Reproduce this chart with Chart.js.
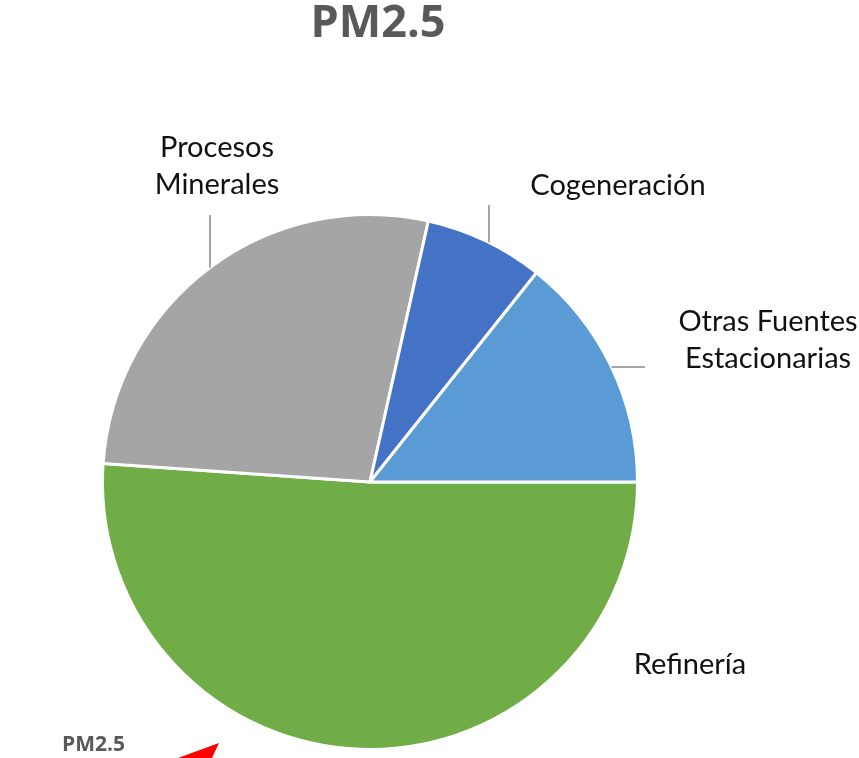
<!DOCTYPE html>
<html>
<head>
<meta charset="utf-8">
<script src="https://cdn.jsdelivr.net/npm/chart.js@4.4.0/dist/chart.umd.min.js"></script>
<style>
  html,body{margin:0;padding:0;background:#fff;}
  #wrap{width:859px;height:758px;position:relative;}
</style>
</head>
<body>
<div id="wrap"><canvas id="pm25"></canvas></div>
<script>
const titulo = "PM2.5";
const categorias = ["Refinería", "Procesos Minerales", "Cogeneración", "Otras Fuentes Estacionarias"];
const valores = [51.1, 27.4, 7.2, 14.3];
const colores = ["#70ad47", "#a5a5a5", "#4472c4", "#5b9bd5"];

// donde va cada etiqueta (centro del texto) y como sale su línea guía
const etiquetas = [
  {lineas:["Refinería"], x:690, y:665, guia:null},
  {lineas:["Procesos","Minerales"], x:217, y:166, guia:{tipo:"v", x:210, fin:215}},
  {lineas:["Cogeneración"], x:618, y:186, guia:{tipo:"v", x:489, fin:205}},
  {lineas:["Otras Fuentes","Estacionarias"], x:768, y:340, guia:{tipo:"h", y:367, fin:645}}
];

const pluginEtiquetas = {
  id:'etiquetas',
  afterDraw(chart){
    const ctx = chart.ctx;
    const arc = chart.getDatasetMeta(0).data[0];
    const cx = arc.x, cy = arc.y, r = arc.outerRadius;
    ctx.save();
    // título
    ctx.fillStyle = "#595959";
    ctx.font = "bold 45px 'Open Sans', sans-serif";
    ctx.textAlign = "center";
    ctx.textBaseline = "middle";
    ctx.fillText(titulo, 378, 24);

    // líneas guía
    ctx.strokeStyle = "#a6a6a6";
    ctx.lineWidth = 2;
    etiquetas.forEach(e=>{
      const g = e.guia;
      if(!g) return;
      ctx.beginPath();
      if(g.tipo === "v"){
        const y0 = cy - Math.sqrt(r*r - (g.x-cx)*(g.x-cx));
        ctx.moveTo(g.x, y0);
        ctx.lineTo(g.x, g.fin);
      } else {
        const x0 = cx + Math.sqrt(r*r - (g.y-cy)*(g.y-cy));
        ctx.moveTo(x0, g.y);
        ctx.lineTo(g.fin, g.y);
      }
      ctx.stroke();
    });

    // textos
    ctx.fillStyle = "#111";
    ctx.font = "29px Lato, sans-serif";
    etiquetas.forEach(e=>{
      const alto = 37;
      const y0 = e.y - (e.lineas.length-1)*alto/2;
      e.lineas.forEach((t,i)=>ctx.fillText(t, e.x, y0 + i*alto));
    });

    // pie pequeño y flecha roja
    ctx.fillStyle = "#595959";
    ctx.font = "bold 21px 'Open Sans', sans-serif";
    ctx.textAlign = "left";
    ctx.fillText(titulo, 62, 745);
    ctx.fillStyle = "#ff0000";
    ctx.beginPath();
    ctx.moveTo(178, 758);
    ctx.lineTo(219, 743);
    ctx.lineTo(212, 758);
    ctx.closePath();
    ctx.fill();
    ctx.restore();
  }
};

new Chart(document.getElementById('pm25'), {
  type:'pie',
  data:{
    labels:categorias,
    datasets:[{
      data:valores,
      backgroundColor:colores,
      borderColor:"#ffffff",
      borderWidth:3
    }]
  },
  options:{
    responsive:true,
    maintainAspectRatio:false,
    animation:false,
    rotation:90,
    layout:{padding:{left:101, top:213, right:220, bottom:7}},
    plugins:{
      legend:{display:false},
      tooltip:{enabled:false},
      title:{display:false}
    }
  },
  plugins:[pluginEtiquetas]
});
</script>
</body>
</html>
